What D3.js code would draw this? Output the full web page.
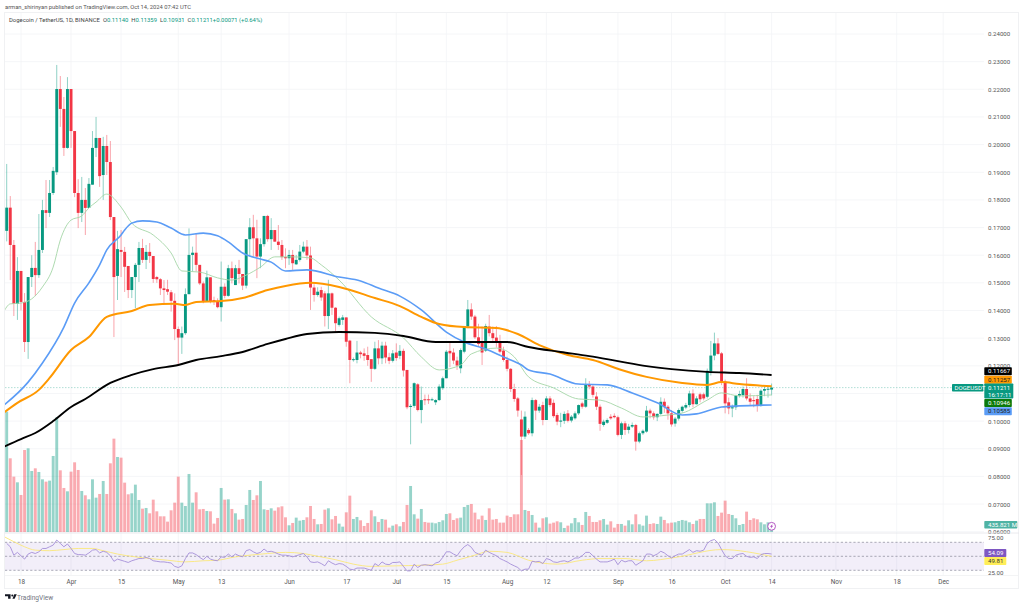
<!DOCTYPE html>
<html><head><meta charset="utf-8">
<script src="https://cdn.jsdelivr.net/npm/d3@7"></script>
<style>html,body{margin:0;padding:0;background:#fff;overflow:hidden}svg{display:block}text{font-family:Roboto,"Liberation Sans",sans-serif}</style>
</head><body><svg id="c" width="1024" height="606"></svg>
<script>
const opens=[.1688,.1772,.1637,.1424,.1543,.1431,.1286,.1521,.1554,.1528,
.1619,.1763,.1753,.1825,.19,.2201,.2129,.1988,.2201,.2049,
.1825,.1753,.18,.1771,.1855,.1988,.2024,.189,.1995,.1937,
.1738,.1525,.1619,.1612,.1561,.1474,.1521,.1565,.1626,.1583,
.1612,.1597,.1521,.1513,.148,.1477,.1466,.1435,.1333,.1302,
.1318,.1459,.1601,.1609,.1565,.1498,.1432,.152,.1438,.1435,
.1412,.1486,.1453,.1553,.1492,.1553,.1532,.149,.1658,.1701,
.1661,.1595,.164,.1742,.1658,.1691,.1649,.1637,.1593,.1589,
.1601,.1567,.1583,.1613,.1631,.1599,.1483,.1456,.1474,.1462,
.138,.1462,.141,.1348,.1366,.1375,.1291,.1221,.1221,.1248,
.1245,.1239,.1224,.1189,.1263,.1227,.1273,.1231,.1218,.1248,
.1236,.1254,.1185,.1051,.1055,.1133,.104,.1079,.1079,.1077,
.1068,.1076,.1119,.1155,.1254,.1248,.1219,.1191,.1251,.1342,
.1404,.1378,.1303,.1287,.1255,.1342,.1318,.1302,.1287,.1255,
.1221,.1189,.1116,.1082,.1006,.0944,.0968,.0956,.1076,.1038,
.1058,.1004,.1082,.1066,.1022,.0998,.1001,.1028,.1002,.101,
.1028,.1064,.1052,.1133,.1125,.1089,.1052,.0986,.0994,.1016,
.1019,.1014,.095,.0992,.0968,.098,.0986,.0926,.0956,.0962,
.1038,.1028,.1014,.1026,.107,.1052,.1028,.0991,.1009,.1037,
.1049,.1058,.11,.1061,.1097,.1097,.1088,.1179,.1237,.1281,
.1245,.1143,.1068,.1046,.105,.1092,.1094,.1116,.1082,.1076,
.108,.1058,.111,.1114,.1114];
const closes=[.1772,.1637,.1424,.1543,.1431,.1286,.1521,.1554,.1528,.1619,
.1763,.1753,.1825,.1905,.2201,.2129,.1988,.2201,.2049,.1825,
.1753,.18,.1771,.1858,.1988,.2024,.1886,.1995,.1937,.1738,
.1521,.1622,.1612,.1558,.1474,.1521,.1565,.1626,.1583,.1612,
.1597,.1514,.1513,.148,.1474,.1468,.1435,.1333,.1302,.1318,
.1459,.1601,.1609,.1565,.1498,.1432,.152,.1432,.1432,.1412,
.1486,.1453,.1553,.1517,.1553,.1532,.149,.1658,.1701,.1661,
.1595,.164,.1742,.1658,.1691,.1649,.1637,.1593,.1589,.1601,
.1571,.1583,.1613,.1631,.1599,.1483,.1456,.1468,.1447,.138,
.1462,.141,.1354,.1372,.1375,.1287,.1221,.1224,.1248,.1242,
.1236,.1221,.1189,.1263,.1227,.1273,.123,.1218,.1245,.1228,
.1254,.1183,.105,.1055,.1137,.104,.1076,.1076,.1077,.1079,
.1076,.1125,.1155,.1251,.1245,.1219,.1201,.1257,.1344,.1404,
.1378,.1303,.1279,.1248,.1344,.1318,.13,.1284,.1251,.1221,
.1189,.1116,.108,.1038,.0944,.1016,.0956,.1076,.1038,.1052,
.1004,.1082,.1058,.1018,.0998,.1002,.1026,.1001,.1016,.1028,
.1058,.1052,.1133,.1125,.1095,.1052,.099,.0998,.1004,.101,
.1014,.095,.0992,.0968,.098,.0986,.0926,.0956,.0965,.1038,
.1028,.1014,.1026,.107,.1052,.1028,.0988,.1009,.104,.1052,
.1058,.11,.1061,.1082,.1079,.1082,.1182,.1237,.1281,.1243,
.1143,.1064,.1046,.105,.1092,.1098,.1116,.1082,.107,.1072,
.1058,.111,.1116,.1117,.11211];
const highs=[.193,.1814,.1655,.1593,.1543,.1463,.1521,.16,.1648,.1749,
.18,.1872,.1872,.1919,.2288,.2248,.2172,.2244,.2201,.2049,
.1875,.1883,.1843,.1879,.2049,.21,.2024,.2028,.2035,.2013,
.1738,.1688,.1691,.163,.1561,.1521,.1572,.1648,.1659,.1637,
.1644,.1597,.1525,.1517,.151,.1511,.1474,.1462,.1342,.1342,
.148,.1697,.1631,.1679,.1565,.1505,.1544,.152,.145,.1444,
.1577,.1498,.1565,.1577,.1565,.1583,.1532,.1658,.1734,.1746,
.1728,.1661,.1742,.1746,.1734,.1691,.1709,.1655,.1625,.1619,
.1619,.1601,.1637,.1649,.1655,.1631,.1495,.1484,.1486,.147,
.1511,.1465,.1412,.1378,.1384,.1375,.1294,.123,.129,.1254,
.1263,.1269,.1224,.1287,.1293,.1287,.1287,.1247,.1257,.1281,
.1275,.1262,.1185,.1062,.114,.1137,.1125,.1096,.1096,.1085,
.1079,.1133,.1161,.1257,.1287,.1263,.1233,.1263,.1344,.1438,
.1426,.1384,.1352,.1342,.1352,.1384,.1342,.1344,.1312,.1269,
.1233,.1192,.1135,.1087,.1038,.1035,.0975,.1085,.108,.1062,
.107,.109,.109,.1078,.103,.103,.1035,.104,.1022,.1035,
.106,.107,.1155,.1145,.113,.1105,.106,.1005,.101,.1025,
.1028,.102,.0998,.1,.099,.0995,.099,.0962,.097,.1055,
.1045,.1035,.1028,.1086,.1082,.1058,.104,.1015,.1046,.1056,
.1066,.111,.1115,.109,.1103,.1103,.119,.129,.132,.13,
.125,.115,.1085,.106,.1095,.111,.1125,.1155,.11,.109,
.1095,.1115,.1125,.1125,.11359];
const lows=[.165,.151,.138,.1366,.14,.125,.1225,.1485,.1452,.1518,
.1608,.1698,.1738,.1818,.189,.2064,.1959,.1985,.1988,.181,
.1698,.172,.1673,.1771,.1855,.1955,.1847,.18,.189,.1727,
.1304,.1438,.1521,.1467,.1445,.1445,.1409,.1503,.1572,.155,
.1572,.15,.15,.1456,.1426,.1456,.1396,.1293,.1203,.1243,
.1312,.1459,.1541,.1541,.1492,.1426,.1432,.1426,.142,.1408,
.136,.1444,.145,.1498,.1492,.1498,.1474,.148,.1595,.1595,
.1517,.1553,.1631,.1649,.1619,.1649,.1619,.1583,.1553,.1565,
.1547,.1565,.1577,.1607,.1583,.1402,.1432,.145,.1435,.1342,
.1333,.1384,.1324,.1342,.1348,.1269,.1137,.1215,.1209,.1227,
.1218,.12,.1142,.1185,.1205,.1206,.1209,.1206,.1212,.1218,
.1224,.1161,.1043,.0916,.1048,.1035,.0992,.1058,.1062,.1073,
.1058,.1073,.1113,.1155,.1195,.1206,.1185,.1173,.1245,.1336,
.1366,.1297,.127,.1203,.125,.1306,.1285,.1266,.1245,.1215,
.118,.1105,.107,.1016,.0805,.0935,.095,.0945,.1004,.103,
.0985,.1004,.105,.1012,.0985,.0978,.099,.0995,.0995,.1005,
.1022,.1045,.1048,.1115,.1085,.104,.0965,.098,.099,.1005,
.101,.0945,.0935,.095,.0955,.0975,.0893,.092,.095,.0958,
.101,.1005,.1,.1022,.103,.1005,.098,.098,.1002,.103,
.1043,.105,.105,.106,.1068,.1075,.1082,.1165,.122,.124,
.113,.1028,.1025,.1014,.104,.1085,.1085,.1075,.1058,.105,
.1034,.1052,.109,.1085,.10931];
const volumes=[7240,4440,3340,3000,2240,4940,5040,3680,3840,3620,
3180,3040,3100,4580,6900,3720,2660,2460,3640,4200,
3740,2480,2220,1980,3180,2080,2300,3080,2300,4140,
5620,4520,4480,2980,2280,2340,2860,1940,1420,1460,
1140,1960,1260,960,960,640,1320,1780,3340,1780,
1580,3500,1780,2400,1380,1400,1280,1260,520,860,
2660,1960,1980,1400,1140,760,800,1640,2540,1940,
2220,3080,1380,1340,1440,1300,1500,1560,900,420,
560,880,700,740,900,1580,800,480,500,1360,
1440,780,980,520,340,1200,2200,800,920,720,
380,560,1320,960,620,800,760,280,400,480,
360,620,1640,2780,1080,820,1400,620,580,580,
540,620,720,1100,1140,740,840,880,1520,1640,
1700,1180,780,1000,740,1440,760,800,580,580,
1000,920,1080,1080,5540,1340,1280,1040,580,280,
840,900,520,580,660,600,260,400,540,860,
600,440,1220,980,620,620,720,800,460,660,
280,500,500,400,720,480,1080,480,400,1000,
500,540,500,940,740,540,580,600,680,740,
700,600,500,700,800,800,1740,1740,1800,980,
1180,1900,1100,1040,840,440,500,1240,740,840,
780,600,480,600,435.821];
const rsi=[73,67,52,57,51,45,54,57,55,58,64,64,67,70,79,73,67,72,64,55,
53,53,52,56,61,62,56,59,57,51,41,45,43,41,39,42,44,46,46,48,
46,42,41,40,40,39,38,32,30,33,46,56,56,53,48,44,50,45,43,42,
49,48,54,49,54,51,49,60,62,58,55,57,63,58,59,57,54,52,52,51,
49,51,53,55,49,40,39,40,37,33,42,38,35,37,36,32,27,26,29,29,
29,27,25,37,33,40,36,35,39,39,40,32,24,24,36,30,34,35,34,33,
38,40,48,58,58,54,51,60,67,71,66,57,54,52,61,57,54,51,46,43,
40,36,33,30,24,27,27,41,40,41,37,46,44,40,39,41,42,40,43,47,
47,51,57,57,51,45,40,40,40,42,45,35,43,40,42,42,34,38,42,54,
54,51,54,59,56,51,47,51,54,54,58,62,57,60,59,61,73,78,80,74,
62,51,46,46,52,54,55,50,48,49,46,53,55,55,54.09];
const rsiMaDays=[-1,2,5,8,12,16,20,24,27,31,36,40,45,50,55,59,64,68,73,78,83,87,92,97,102,109,116,122,126,131,135,140,146,154,161,166,173,179,187,200,214];
const rsiMaValues=[86,76,67,61,60,62,64,64,60,54,49,46,43,40,42,43,49,52,55,57,55,50,44,36,32,33,34,36,43,52,59,57,43,36,43,46,46,42,48,62,49.81];
const blueDays=[-1,6,10,16,19,23,26,28,32,33,35,38,42,46,50,55,59,62,66,71,74,78,84,93,99,104,110,116,123,128,134,139,144,146,152,160,168,175,182,189,193,200,205,214];
const blueValues=[.1055,.1141,.121,.134,.1427,.15,.1565,.1619,.1673,.1691,.1716,.1724,.172,.1698,.1673,.168,.167,.1648,.1608,.1586,.1575,.1543,.1547,.1521,.1507,.1481,.1452,.1402,.1322,.1286,.1261,.1232,.1203,.1185,.117,.1134,.1131,.1102,.1066,.1022,.1026,.1051,.1055,.10585];
const orangeDays=[-1,3,9,12,18,23,28,35,40,47,50,53,60,66,73,78,85,93,103,110,116,121,128,137,143,149,157,164,172,179,189,196,200,205,214];
const orangeValues=[.1029,.1066,.1113,.1156,.1257,.1304,.1377,.1398,.142,.1424,.142,.1431,.1434,.1445,.1474,.1489,.15,.1485,.1445,.1416,.1377,.1351,.134,.1337,.1315,.1275,.1239,.1221,.1185,.116,.1138,.1131,.1141,.1134,.11257];
const blackDays=[-1,4,8,13,18,22,29,35,41,48,53,60,66,73,78,84,93,103,111,120,130,140,146,155,163,171,179,186,196,205,214];
const blackValues=[.0906,.0935,.0957,.1,.1051,.108,.1138,.1167,.1188,.1203,.1221,.1235,.125,.1279,.1297,.1315,.1322,.1319,.1308,.1286,.1286,.1286,.1268,.125,.1235,.1217,.1199,.1188,.1178,.1174,.11667];
const greenDays=[-1,1,4,7,10,13,15,18,21,23,25,28,32,35,41,46,49,54,59,63,67,71,75,80,85,88,93,102,111,116,121,127,130,137,142,146,153,160,166,172,178,185,189,196,200,205,214];
const greenValues=[.1391,.1424,.1427,.1442,.1485,.1557,.1655,.1727,.1742,.1771,.1792,.1821,.1774,.1716,.1673,.1608,.1543,.1539,.1518,.151,.1528,.1557,.1594,.1594,.159,.1565,.151,.1377,.1301,.1232,.1185,.1203,.1243,.1264,.1232,.116,.112,.108,.1076,.1047,.1015,.1022,.1029,.1076,.1102,.1091,.10946];
const priceTicks=[.06,.07,.08,.09,.10,.11,.12,.13,.14,.15,.16,.17,.18,.19,.20,.21,.22,.23,.24];
const timeTickDays=[4,18,32,48,60,79,95,109,123,140,151,171,186,201,214,232,249,262];
const timeTickLabels=["18","Apr","15","May","13","Jun","17","Jul","15","Aug","12","Sep","16","Oct","14","Nov","18","Dec"];
const headerTitle="Dogecoin / TetherUS, 1D, BINANCE";
const headerValues=["O0.11140","H0.11359","L0.10931","C0.11211","+0.00071 (+0.64%)"];
const badgeSeries=[["0.11667","#000000","#fff"],["0.11257","#ff9800","#222"],["0.10946","#0b7a0b","#fff"],["0.10585","#5b9cf6","#222"]];

const GREEN="#089981",RED="#f23645";
const L=5,R=984,T=13,B=589,PB=532.3;
const svg=d3.select("#c");
const x=d3.scaleLinear().domain([0,214]).range([6.7,771.6]);
const y=d3.scaleLinear().domain([.06,.24]).range([531.7,34]);
const yV=d3.scaleLinear().domain([0,8000]).range([PB,PB-133.3]);
const yR=d3.scaleLinear().domain([25,75]).range([570.3,542.3]);
const cw=2.9;

// frame
svg.append("rect").attr("x",L-.5).attr("y",T-.5).attr("width",1019-L).attr("height",B-T).attr("fill","#fff").attr("stroke","#f0f1f3");
const defs=svg.append("defs");
defs.append("clipPath").attr("id","pc").append("rect").attr("x",L).attr("y",T).attr("width",R-L).attr("height",PB-T);
defs.append("clipPath").attr("id","rc").append("rect").attr("x",L).attr("y",534).attr("width",R-L).attr("height",41);

// grid
const grid=svg.append("g").attr("stroke","#f3f4f6").attr("stroke-width",.8);
grid.selectAll(".h").data(priceTicks).join("line").attr("x1",L).attr("x2",R).attr("y1",d=>y(d)).attr("y2",d=>y(d));
grid.selectAll(".v").data(timeTickDays).join("line").attr("x1",d=>x(d)).attr("x2",d=>x(d)).attr("y1",T).attr("y2",575);

// right price axis
const ya=svg.append("g").attr("transform",`translate(${R+1},0)`).call(d3.axisRight(y).tickValues(priceTicks).tickSize(0).tickPadding(3).tickFormat(d3.format(".5f")));
ya.select(".domain").remove();
ya.selectAll("text").attr("fill","#555").style("font-size","6.1px");

const pane=svg.append("g").attr("clip-path","url(#pc)");
// volume
pane.append("g").selectAll("rect").data(volumes).join("rect")
 .attr("x",(d,i)=>x(i)-1.45).attr("width",cw).attr("y",d=>yV(d)).attr("height",d=>PB-yV(d))
 .attr("fill",(d,i)=>closes[i]>=opens[i]?GREEN:RED).attr("fill-opacity",.42);
// last price line
pane.append("line").attr("x1",L).attr("x2",R).attr("y1",y(closes[214])).attr("y2",y(closes[214])).attr("stroke",GREEN).attr("stroke-opacity",.45).attr("stroke-width",.7).attr("stroke-dasharray","1.5 1.5");
// wicks
pane.append("g").selectAll("line").data(highs).join("line")
 .attr("x1",(d,i)=>x(i)).attr("x2",(d,i)=>x(i)).attr("y1",d=>y(d)).attr("y2",(d,i)=>y(lows[i]))
 .attr("stroke",(d,i)=>closes[i]>=opens[i]?GREEN:RED).attr("stroke-opacity",.45).attr("stroke-width",1);
// bodies
pane.append("g").selectAll("rect").data(opens).join("rect")
 .attr("x",(d,i)=>x(i)-1.45).attr("width",cw)
 .attr("y",(d,i)=>y(Math.max(d,closes[i])))
 .attr("height",(d,i)=>Math.max(1,Math.abs(y(d)-y(closes[i]))))
 .attr("fill",(d,i)=>closes[i]>=opens[i]?GREEN:RED);
// moving averages
function ma(days,vals,col,w){
 const line=d3.line().x(i=>x(days[i])).y(i=>y(vals[i])).curve(d3.curveMonotoneX);
 pane.append("path").attr("d",line(d3.range(days.length))).attr("fill","none").attr("stroke",col).attr("stroke-width",w).attr("stroke-linejoin","round");
}
ma(greenDays,greenValues,"#a5d6a7",.9);
ma(blueDays,blueValues,"#5b9cf6",1.6);
ma(orangeDays,orangeValues,"#ff9800",2);
ma(blackDays,blackValues,"#000000",1.9);

// separators
svg.append("line").attr("x1",L).attr("x2",1019).attr("y1",533).attr("y2",533).attr("stroke","#e4e5ea").attr("stroke-width",.8);
svg.append("line").attr("x1",L).attr("x2",1019).attr("y1",575.5).attr("y2",575.5).attr("stroke","#f0f1f3").attr("stroke-width",.8);

// RSI
const rp=svg.append("g").attr("clip-path","url(#rc)");
rp.append("rect").attr("x",L).attr("width",R-L).attr("y",yR(75)).attr("height",yR(25)-yR(75)).attr("fill","#7e57c2").attr("fill-opacity",.1);
rp.selectAll(".lv").data([75,50,25]).join("line").attr("x1",L).attr("x2",R).attr("y1",d=>yR(d)).attr("y2",d=>yR(d)).attr("stroke","#8a8a9a").attr("stroke-width",.7).attr("stroke-dasharray","2.2 2");
rp.append("path").attr("d",d3.line().x(i=>x(rsiMaDays[i])).y(i=>yR(rsiMaValues[i])).curve(d3.curveMonotoneX)(d3.range(rsiMaDays.length))).attr("fill","none").attr("stroke","#fbe87a").attr("stroke-width",.9);
rp.append("path").attr("d",d3.line().x((d,i)=>x(i)).y(d=>yR(d))(rsi)).attr("fill","none").attr("stroke","#a58fd8").attr("stroke-width",.9);
[[75,-4.5],[25,2.8]].forEach(([v,dy])=>svg.append("text").attr("x",R+4).attr("y",yR(v)+dy+2).attr("fill","#555").style("font-size","6.1px").text(v.toFixed(2)));

// time axis
const xa=svg.append("g").attr("transform","translate(0,576)").call(d3.axisBottom(x).tickValues(timeTickDays).tickSize(0).tickPadding(3).tickFormat((d,i)=>timeTickLabels[i]));
xa.select(".domain").remove();
xa.selectAll("text").attr("fill","#555").style("font-size","6.4px");

// badges
function badge(bx,by,bw,bh,fill,tc,txt,tx){
 svg.append("rect").attr("x",bx).attr("y",by).attr("width",bw).attr("height",bh).attr("rx",.8).attr("fill",fill);
 svg.append("text").attr("x",tx).attr("y",by+bh/2+2.1).attr("fill",tc).style("font-size","6.1px").text(txt);
}
const stack=[367.3,375.7,399,407.3];
badgeSeries.forEach((s,k)=>badge(984.3,stack[k],27.5,8,s[1],s[2],s[0],988));
svg.append("rect").attr("x",984.3).attr("y",383.5).attr("width",29).attr("height",15).attr("rx",.8).attr("fill",GREEN);
svg.append("text").attr("x",988).attr("y",390).attr("fill","#fff").style("font-size","6.1px").text("0.11211");
svg.append("text").attr("x",988).attr("y",396.6).attr("fill","#fff").style("font-size","6.1px").text("16:17:11");
badge(952,384,31.5,7.5,GREEN,"#fff","DOGEUSDT",954.5);
badge(984.3,521,33,7.6,"#4fb3a4","#fff","435.821 M",988);
badge(984.3,549,22,8,"#7e57c2","#fff","54.09",988);
badge(984.3,557,22,8,"#ffee58","#333","49.81",988);

// lightning marker
const bolt=svg.append("g").attr("transform",`translate(${x(214)},526.3)`);
bolt.append("circle").attr("r",3.9).attr("fill","#fff").attr("stroke","#ab47bc").attr("stroke-width",.9);
bolt.append("path").attr("d","M.9,-2.4 L-1.6,.4 L-.2,.4 L-.9,2.4 L1.6,-.5 L.2,-.5 Z").attr("fill","#ab47bc");

// header
svg.append("text").attr("x",5).attr("y",9).attr("fill","#555").style("font-size","5.8px").text("arman_shirinyan published on TradingView.com, Oct 14, 2024 07:42 UTC");
const hdr=svg.append("text").attr("x",9).attr("y",22.3).style("font-size","5.9px").attr("fill","#444");
hdr.append("tspan").text(headerTitle);
headerValues.forEach((v,i)=>{
 const letter=i<4?v[0]:"";
 hdr.append("tspan").attr("dx",3).attr("fill","#444").text(letter);
 hdr.append("tspan").attr("fill",GREEN).text(i<4?v.slice(1):v);
});

// logo
const logo=svg.append("g").attr("transform","translate(5,594.3) scale(.62)").attr("fill","#131722");
logo.append("path").attr("d","M0 0H9V7H5V3H0Z M12 7 L15 0 H19 L15.5 7 Z");
logo.append("circle").attr("cx",11.8).attr("cy",2).attr("r",1.7);
svg.append("text").attr("x",17).attr("y",599.6).attr("fill","#6f7480").style("font-size","6.6px").text("TradingView");
</script></body></html>
